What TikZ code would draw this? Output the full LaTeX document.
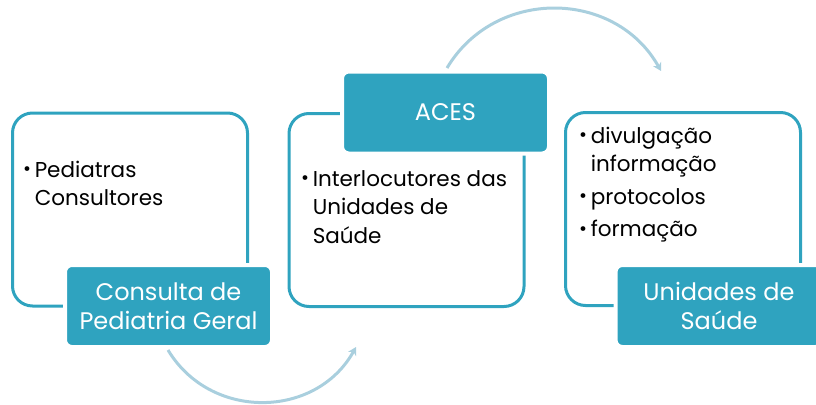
\documentclass[tikz,border=0pt]{standalone}
\usepackage{fontspec}
\setmainfont{Poppins}
\usetikzlibrary{arrows.meta}
\definecolor{acesblue}{HTML}{2FA3BF}
\definecolor{flowblue}{HTML}{A9CFDE}
\newcommand{\bodyfont}{\fontsize{21.5}{28.5}\selectfont}
\newcommand{\titlefont}{\fontsize{24}{28.5}\selectfont}
\newcommand{\bul}{\raisebox{0.1ex}{\scalebox{0.9}{•}}}

\begin{document}
\begin{tikzpicture}[x=1pt,y=-1pt,
    frame/.style={draw=acesblue, line width=3pt, rounded corners=20pt,
        minimum width=235pt, minimum height=193pt, inner sep=0pt},
    title/.style={fill=acesblue, draw=white, line width=4pt, rounded corners=7pt,
        text=white, minimum width=207pt, minimum height=82pt, inner sep=0pt,
        align=center, font=\titlefont},
    body/.style={anchor=base west, align=left, font=\bodyfont, inner sep=0pt},
    flow/.style={draw=flowblue, line width=3pt, -{Stealth[length=8pt,width=9pt]}}]
        \useasboundingbox (0,0) rectangle (816,404);

        % Outer frames
        \node[frame] (pedbox) at (130,209.5) {};
        \node[frame] (acesbox) at (406.5,210) {};
        \node[frame] (usbox) at (683,209) {};

        % Bullet texts
        \node[body] (pedtext) at (23,177) {%
            \begin{tabular}[t]{@{}l@{\,}l@{}}\bul & Pediatras\\ & Consultores\end{tabular}};
        \node[body] (acestext) at (301,186) {%
            \begin{tabular}[t]{@{}l@{\,}l@{}}\bul & Interlocutores das\\ & Unidades de\\ & Saúde\end{tabular}};
        \node[body] (ustext) at (579,143) {%
            \begin{tabular}[t]{@{}l@{\,}l@{}}\bul & divulgação\\ & informação\\[4pt]
            \bul & protocolos\\[4pt] \bul & formação\end{tabular}};

        % Title boxes
        \node[title] (pedtitle) at (168.5,306) {Consulta de\\Pediatria Geral};
        \node[title] (acestitle) at (445.5,112.5) {ACES};
        \node[title] (ustitle) at (719,306) {Unidades de\\Saúde};

        % Curved flow arrows
        \coordinate (flowA) at (168,350);
        \coordinate (flowB) at (356,347);
        \coordinate (flowC) at (447,68);
        \coordinate (flowD) at (661,71);
        \draw[flow] (flowA) to[bend right=60, looseness=1.12] (flowB);
        \draw[flow] (flowC) to[bend left=60, looseness=1.12] (flowD);
\end{tikzpicture}
\end{document}
